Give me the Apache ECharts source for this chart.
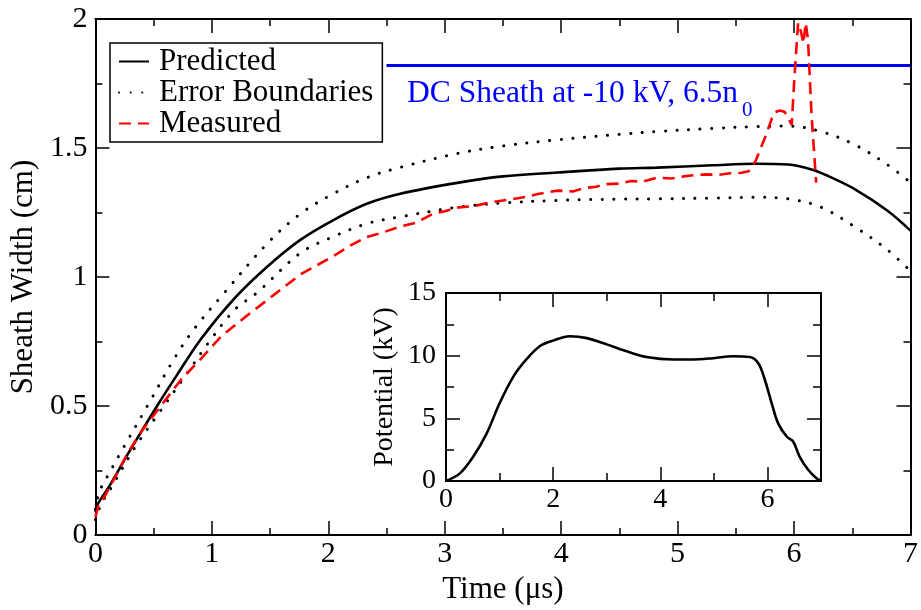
<!DOCTYPE html>
<html>
<head>
<meta charset="utf-8">
<script src="https://cdn.jsdelivr.net/npm/echarts@6/dist/echarts.min.js"></script>
<style>
html,body{margin:0;padding:0;background:#fff;}
#chart{width:921px;height:610px;}
</style>
</head>
<body>
<div id="chart"></div>
<script>
// ---- Data ----
var predT = [0, 0.02, 0.12, 0.3, 0.54, 0.7, 0.91, 1.2, 1.48, 1.76, 2.04, 2.33, 2.61, 3.12, 3.5, 3.97, 4.5, 4.82, 5.3, 5.67, 5.95, 6.15, 6.3, 6.52, 6.8, 7.0];
var predW = [0.09, 0.12, 0.19, 0.33, 0.508, 0.62, 0.762, 0.92, 1.042, 1.144, 1.22, 1.284, 1.322, 1.366, 1.39, 1.405, 1.42, 1.424, 1.433, 1.439, 1.436, 1.417, 1.39, 1.341, 1.258, 1.18];

var upT = [0, 0.03, 0.1, 0.23, 0.456, 0.68, 0.85, 1.1, 1.476, 1.76, 2.04, 2.33, 2.61, 3.1, 3.5, 3.97, 4.5, 4.82, 5.3, 5.67, 5.95, 6.23, 6.52, 6.8, 7.0];
var upW = [0.1, 0.164, 0.225, 0.33, 0.508, 0.686, 0.8, 0.935, 1.13, 1.245, 1.322, 1.385, 1.424, 1.478, 1.508, 1.532, 1.553, 1.564, 1.576, 1.583, 1.585, 1.564, 1.513, 1.436, 1.366];

var lowT = [0, 0.05, 0.144, 0.34, 0.54, 0.8, 0.97, 1.2, 1.39, 1.76, 2.04, 2.33, 2.61, 3.12, 3.5, 3.97, 4.5, 4.82, 5.3, 5.67, 5.95, 6.23, 6.52, 6.8, 7.0];
var lowW = [0.06, 0.12, 0.19, 0.34, 0.47, 0.635, 0.745, 0.875, 0.94, 1.093, 1.156, 1.207, 1.233, 1.271, 1.287, 1.297, 1.302, 1.303, 1.306, 1.309, 1.303, 1.271, 1.195, 1.106, 1.023];

var measT = [0, 0.03, 0.08, 0.17, 0.28, 0.4, 0.57, 0.74, 0.91, 1.08, 1.3, 1.53, 1.76, 2.04, 2.2, 2.33, 2.45, 2.61, 2.75, 2.9, 3.0, 3.12, 3.25, 3.4, 3.55, 3.69, 3.8, 3.97, 4.1, 4.2, 4.3, 4.39, 4.5, 4.6, 4.7, 4.82, 4.95, 5.05, 5.15, 5.24, 5.35, 5.45, 5.55, 5.61, 5.67, 5.75, 5.81, 5.84, 5.88, 5.92, 5.95, 5.98, 6.0, 6.01, 6.035, 6.06, 6.08, 6.1, 6.12, 6.15, 6.19];
var measW = [0.07, 0.12, 0.15, 0.225, 0.32, 0.405, 0.505, 0.605, 0.685, 0.77, 0.85, 0.93, 1.01, 1.08, 1.125, 1.155, 1.17, 1.195, 1.21, 1.245, 1.255, 1.27, 1.275, 1.29, 1.3, 1.31, 1.322, 1.335, 1.332, 1.345, 1.35, 1.36, 1.362, 1.372, 1.37, 1.385, 1.382, 1.39, 1.395, 1.398, 1.396, 1.402, 1.404, 1.41, 1.45, 1.54, 1.615, 1.64, 1.645, 1.64, 1.615, 1.59, 1.75, 1.82, 1.985, 1.95, 1.905, 1.985, 1.92, 1.63, 1.366];

var dcT = [2.5, 7.0];
var dcW = [1.82, 1.82];

var potT = [0, 0.26, 0.51, 0.76, 1.0, 1.26, 1.5, 1.75, 2.0, 2.31, 2.63, 3.0, 3.37, 3.74, 4.24, 4.61, 4.99, 5.36, 5.67, 5.83, 5.95, 6.08, 6.2, 6.36, 6.48, 6.6, 6.76, 6.92, 7.0];
var potV = [0, 0.61, 1.95, 3.8, 6.2, 8.35, 9.7, 10.75, 11.2, 11.55, 11.4, 10.9, 10.35, 9.9, 9.7, 9.7, 9.8, 9.95, 9.9, 9.4, 8.1, 6.2, 4.6, 3.55, 3.15, 1.95, 0.9, 0.2, 0];

var legendNames = ['Predicted', 'Error Boundaries', 'Measured'];
var dcLabel = 'DC Sheath at -10 kV, 6.5n';
var dcSub = '0';

function pairs(a, b) { return a.map(function (v, i) { return [v, b[i]]; }); }

var FONT = 'Liberation Serif';
var axisLineStyle = { color: '#000', width: 2 };

function mkX(opts) {
  var base = {
    type: 'value', min: 0, max: 7, interval: 1, gridIndex: 0,
    axisLine: { show: true, onZero: false, lineStyle: axisLineStyle },
    axisTick: { show: true, inside: true, length: 14, lineStyle: { color: '#000', width: 1.5 } },
    minorTick: { show: true, splitNumber: 2, length: 7, lineStyle: { color: '#000', width: 1.5 } },
    splitLine: { show: false }, minorSplitLine: { show: false },
    axisLabel: { show: false }
  };
  return Object.assign(base, opts);
}
function mkY(opts) {
  var base = {
    type: 'value', min: 0, max: 2, interval: 0.5, gridIndex: 0,
    axisLine: { show: true, onZero: false, lineStyle: axisLineStyle },
    axisTick: { show: true, inside: true, length: 14, lineStyle: { color: '#000', width: 1.5 } },
    minorTick: { show: true, splitNumber: 2, length: 7, lineStyle: { color: '#000', width: 1.5 } },
    splitLine: { show: false }, minorSplitLine: { show: false },
    axisLabel: { show: false }
  };
  return Object.assign(base, opts);
}

var chart = echarts.init(document.getElementById('chart'), null, { renderer: 'canvas' });

var option = {
  backgroundColor: '#fff',
  animation: false,
  textStyle: { fontFamily: FONT },
  grid: [
    { left: 93, top: 19, width: 824, height: 524 },
    { left: 446, top: 293, width: 375, height: 188 }
  ],
  xAxis: [
    mkX({ position: 'bottom', name: 'Time (\u03bcs)', nameLocation: 'middle', nameGap: 34,
          nameTextStyle: { fontSize: 31, color: '#000', fontFamily: FONT },
          axisLabel: { show: true, fontSize: 30, color: '#000', margin: 4, fontFamily: FONT } }),
    mkX({ position: 'top' }),
    mkX({ gridIndex: 1, position: 'bottom', interval: 2, minorTick: { show: false },
          axisLabel: { show: true, fontSize: 28, color: '#000', margin: 5, fontFamily: FONT, showMaxLabel: false } }),
    mkX({ gridIndex: 1, position: 'bottom', interval: 1, minorTick: { show: false },
          axisTick: { show: true, inside: true, length: 8, lineStyle: { color: '#000', width: 1.5 } } }),
    mkX({ gridIndex: 1, position: 'top', interval: 2, minorTick: { show: false } }),
    mkX({ gridIndex: 1, position: 'top', interval: 1, minorTick: { show: false },
          axisTick: { show: true, inside: true, length: 8, lineStyle: { color: '#000', width: 1.5 } } })
  ],
  yAxis: [
    mkY({ position: 'left', name: 'Sheath Width (cm)', nameLocation: 'middle', nameGap: 45, nameRotate: 90,
          nameTextStyle: { fontSize: 31, color: '#000', fontFamily: FONT },
          axisLabel: { show: true, fontSize: 30, color: '#000', margin: 8, fontFamily: FONT } }),
    mkY({ position: 'right' }),
    mkY({ gridIndex: 1, position: 'left', min: 0, max: 15, interval: 5,
          minorTick: { show: true, splitNumber: 2, length: 8, lineStyle: { color: '#000', width: 1.5 } },
          name: 'Potential (kV)', nameLocation: 'middle', nameGap: 47, nameRotate: 90,
          nameTextStyle: { fontSize: 28, color: '#000', fontFamily: FONT },
          axisLabel: { show: true, fontSize: 28, color: '#000', margin: 10, fontFamily: FONT } }),
    mkY({ gridIndex: 1, position: 'right', min: 0, max: 15, interval: 5,
          minorTick: { show: true, splitNumber: 2, length: 8, lineStyle: { color: '#000', width: 1.5 } } })
  ],
  legend: {
    data: legendNames,
    orient: 'vertical',
    left: 110, top: 43,
    padding: [3, 9, 3, 8],
    itemGap: 0,
    itemWidth: 30, itemHeight: 14,
    borderColor: '#000', borderWidth: 1.5, borderRadius: 0,
    backgroundColor: '#fff',
    selectedMode: false,
    itemStyle: { opacity: 0 },
    textStyle: { fontSize: 31, color: '#000', fontFamily: FONT, lineHeight: 29.5, padding: [0, 0, 0, 5] }
  },
  graphic: [
    { type: 'text', left: 407, top: 78, z: 100,
      style: { text: dcLabel, fill: '#0000ff', font: '31.5px "Liberation Serif"' } },
    { type: 'text', left: 742, top: 100, z: 100,
      style: { text: dcSub, fill: '#0000ff', font: '21px "Liberation Serif"' } }
  ],
  series: [
    { name: 'DC', type: 'line', xAxisIndex: 0, yAxisIndex: 0, data: pairs(dcT, dcW),
      symbol: 'none', lineStyle: { color: '#0000ff', width: 3 }, z: 3 },
    { name: 'Error Boundaries', type: 'line', xAxisIndex: 0, yAxisIndex: 0, data: pairs(upT, upW),
      symbol: 'none', smooth: 0.35, lineStyle: { color: '#000', width: 3, type: [0.1, 11.5], cap: 'round' }, itemStyle: { color: '#000' } },
    { name: 'Error Boundaries', type: 'line', xAxisIndex: 0, yAxisIndex: 0, data: pairs(lowT, lowW),
      symbol: 'none', smooth: 0.35, lineStyle: { color: '#000', width: 3, type: [0.1, 11.5], cap: 'round' }, itemStyle: { color: '#000' } },
    { name: 'Predicted', type: 'line', xAxisIndex: 0, yAxisIndex: 0, data: pairs(predT, predW),
      symbol: 'none', smooth: 0.35, lineStyle: { color: '#000', width: 2.6 }, itemStyle: { color: '#000' } },
    { name: 'Measured', type: 'line', xAxisIndex: 0, yAxisIndex: 0, data: pairs(measT, measW),
      symbol: 'none', lineStyle: { color: '#ff0000', width: 2.6, type: [12, 7] }, itemStyle: { color: '#ff0000' } },
    { name: 'Potential', type: 'line', xAxisIndex: 2, yAxisIndex: 2, data: pairs(potT, potV),
      symbol: 'none', smooth: 0.35, lineStyle: { color: '#000', width: 2.6 }, itemStyle: { color: '#000' } }
  ]
};
chart.setOption(option);
</script>
</body>
</html>
